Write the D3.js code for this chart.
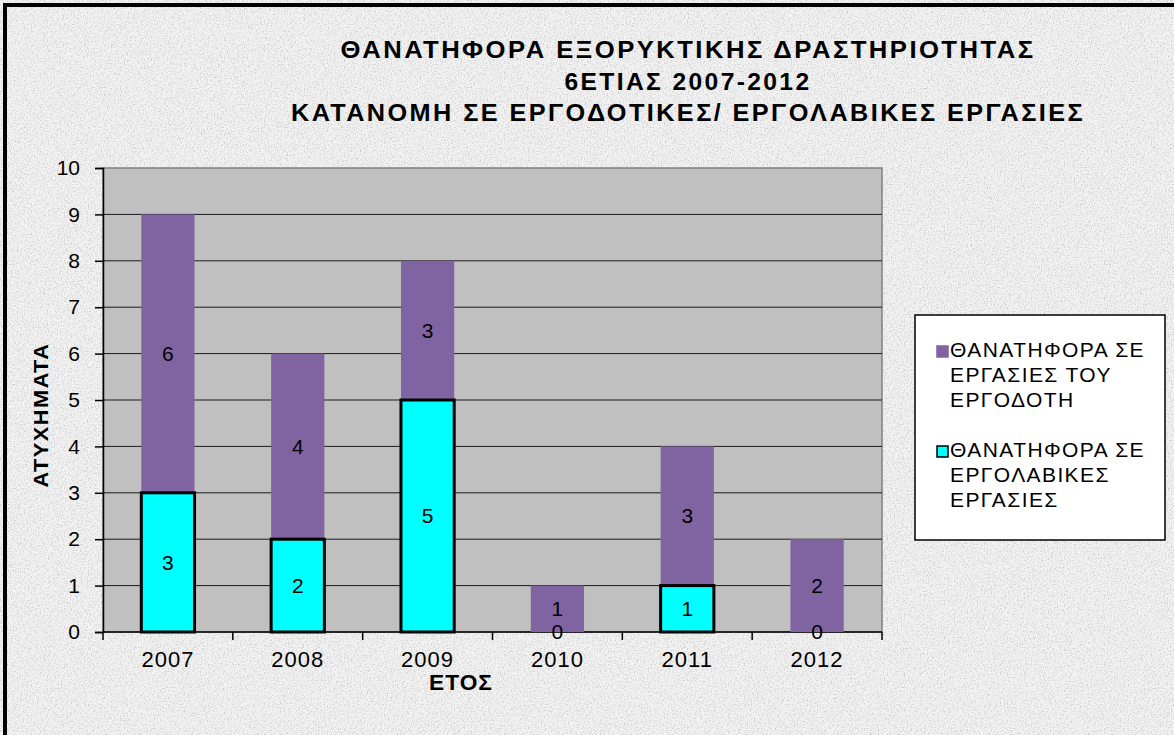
<!DOCTYPE html>
<html>
<head>
<meta charset="utf-8">
<script src="https://cdn.jsdelivr.net/npm/d3@7"></script>
<style>
  body { margin: 0; background: #fff; }
  svg text { font-family: "Liberation Sans", Arial, sans-serif; fill: #000; }
</style>
</head>
<body>
<div id="chart"></div>
<script>
// data
var years = ["2007", "2008", "2009", "2010", "2011", "2012"];
var contractor = [3, 2, 5, 0, 1, 0];   // ΕΡΓΟΛΑΒΙΚΕΣ ΕΡΓΑΣΙΕΣ (cyan, bottom)
var employer = [6, 4, 3, 1, 3, 2];     // ΕΡΓΑΣΙΕΣ ΤΟΥ ΕΡΓΟΔΟΤΗ (purple, top)
var yTicks = [0, 1, 2, 3, 4, 5, 6, 7, 8, 9, 10];
var titleLines = ["ΘΑΝΑΤΗΦΟΡΑ ΕΞΟΡΥΚΤΙΚΗΣ ΔΡΑΣΤΗΡΙΟΤΗΤΑΣ", "6ΕΤΙΑΣ 2007-2012", "ΚΑΤΑΝΟΜΗ ΣΕ ΕΡΓΟΔΟΤΙΚΕΣ/ ΕΡΓΟΛΑΒΙΚΕΣ ΕΡΓΑΣΙΕΣ"];
var legendItems = [
  {lines: ["ΘΑΝΑΤΗΦΟΡΑ ΣΕ", "ΕΡΓΑΣΙΕΣ ΤΟΥ", "ΕΡΓΟΔΟΤΗ"], color: "#8064A2", stroke: "#8064A2"},
  {lines: ["ΘΑΝΑΤΗΦΟΡΑ ΣΕ", "ΕΡΓΟΛΑΒΙΚΕΣ", "ΕΡΓΑΣΙΕΣ"], color: "#00FFFF", stroke: "#000"}
];

var width = 1174, height = 735;
var plot = {left: 103, right: 882, top: 168, bottom: 632};

var svg = d3.select("#chart").append("svg")
  .attr("width", width)
  .attr("height", height);

// noisy paper background
var defs = svg.append("defs");
var f = defs.append("filter").attr("id", "paper").attr("x", 0).attr("y", 0).attr("width", "100%").attr("height", "100%");
f.append("feTurbulence").attr("type", "fractalNoise").attr("baseFrequency", 0.7).attr("numOctaves", 2).attr("seed", 3).attr("result", "n");
f.append("feColorMatrix").attr("in", "n").attr("type", "matrix")
  .attr("values", "0 0 0 0 0  0 0 0 0 0  0 0 0 0 0  -1.6 0 0 0 0.85");

svg.append("rect").attr("width", width).attr("height", height).attr("fill", "#f2f2f2");
svg.append("rect").attr("width", width).attr("height", height).attr("fill", "#fff")
  .attr("filter", "url(#paper)").attr("opacity", 0.28);

// outer frame (only left and top visible)
svg.append("path")
  .attr("d", "M5," + height + "V5H" + width)
  .attr("fill", "none").attr("stroke", "#000").attr("stroke-width", 4);

var x = d3.scaleBand().domain(years).range([plot.left, plot.right]).paddingInner(0.59).paddingOuter(0.295);
var xOuter = d3.scaleBand().domain(years).range([plot.left, plot.right]);
var y = d3.scaleLinear().domain([0, 10]).range([plot.bottom, plot.top]);

// plot area
svg.append("rect")
  .attr("x", plot.left).attr("y", plot.top)
  .attr("width", plot.right - plot.left).attr("height", plot.bottom - plot.top)
  .attr("fill", "#C0C0C0").attr("stroke", "#808080").attr("stroke-width", 1.5);

// gridlines
svg.append("g").selectAll("line")
  .data(yTicks.filter(function(d) { return d > 0 && d < 10; }))
  .enter().append("line")
  .attr("x1", plot.left).attr("x2", plot.right)
  .attr("y1", function(d) { return y(d); }).attr("y2", function(d) { return y(d); })
  .attr("stroke", "#1a1a1a").attr("stroke-width", 1);

// y axis
var yAxis = svg.append("g")
  .attr("transform", "translate(" + plot.left + ",0)")
  .call(d3.axisLeft(y).tickValues(yTicks).tickSize(8).tickPadding(15));
yAxis.select(".domain").attr("stroke", "#000").attr("stroke-width", 1.5);
yAxis.selectAll("line").attr("stroke", "#000").attr("stroke-width", 1.5);
yAxis.selectAll("text").attr("font-size", 21).attr("font-family", "Liberation Sans, Arial, sans-serif").attr("fill", "#000");

// x axis: ticks at category boundaries
var xAxis = svg.append("g").attr("transform", "translate(0," + plot.bottom + ")");
xAxis.append("line").attr("x1", plot.left).attr("x2", plot.right).attr("stroke", "#000").attr("stroke-width", 1.5);
xAxis.selectAll(".tk")
  .data(years.concat(["end"]))
  .enter().append("line")
  .attr("class", "tk")
  .attr("x1", function(d, i) { return i < years.length ? xOuter(d) : plot.right; })
  .attr("x2", function(d, i) { return i < years.length ? xOuter(d) : plot.right; })
  .attr("y1", 0).attr("y2", 8).attr("stroke", "#000").attr("stroke-width", 1.5);
xAxis.selectAll(".lbl")
  .data(years)
  .enter().append("text")
  .attr("class", "lbl")
  .attr("x", function(d) { return xOuter(d) + xOuter.bandwidth() / 2; })
  .attr("y", 35)
  .attr("text-anchor", "middle")
  .attr("font-size", 22)
  .attr("letter-spacing", 1)
  .text(function(d) { return d; });

// bars
var bars = svg.append("g");
bars.selectAll(".emp")
  .data(years)
  .enter().append("rect")
  .attr("class", "emp")
  .attr("x", function(d) { return x(d); })
  .attr("width", x.bandwidth())
  .attr("y", function(d, i) { return y(contractor[i] + employer[i]); })
  .attr("height", function(d, i) { return y(contractor[i]) - y(contractor[i] + employer[i]); })
  .attr("fill", "#8064A2");
bars.selectAll(".con")
  .data(years.filter(function(d, i) { return contractor[i] > 0; }))
  .enter().append("rect")
  .attr("class", "con")
  .attr("x", function(d) { return x(d); })
  .attr("width", x.bandwidth())
  .attr("y", function(d) { return y(contractor[years.indexOf(d)]); })
  .attr("height", function(d) { return y(0) - y(contractor[years.indexOf(d)]); })
  .attr("fill", "#00FFFF").attr("stroke", "#000").attr("stroke-width", 3);

// value labels
var labels = svg.append("g").attr("font-size", 21).attr("text-anchor", "middle");
years.forEach(function(d, i) {
  var cx = x(d) + x.bandwidth() / 2;
  labels.append("text")
    .attr("x", cx).attr("y", y(contractor[i] / 2)).attr("dy", "0.35em")
    .text(contractor[i]);
  labels.append("text")
    .attr("x", cx).attr("y", y(contractor[i] + employer[i] / 2)).attr("dy", "0.35em")
    .text(employer[i]);
});

// title (stretched to the widths seen in the picture)
var titleWidths = [695, 247, 794];
svg.append("g").selectAll("text")
  .data(titleLines)
  .enter().append("text")
  .attr("x", 688)
  .attr("y", function(d, i) { return [58, 90, 121][i]; })
  .attr("text-anchor", "middle")
  .attr("font-size", 23)
  .attr("font-weight", "bold")
  .attr("letter-spacing", 2.2)
  .attr("textLength", function(d, i) { return titleWidths[i]; })
  .attr("lengthAdjust", "spacingAndGlyphs")
  .text(function(d) { return d; });

// axis titles
svg.append("text")
  .attr("transform", "translate(48,415) rotate(-90)")
  .attr("text-anchor", "middle")
  .attr("font-size", 21).attr("font-weight", "bold")
  .attr("letter-spacing", 1.5)
  .attr("textLength", 145).attr("lengthAdjust", "spacingAndGlyphs")
  .text("ΑΤΥΧΗΜΑΤΑ");
svg.append("text")
  .attr("x", 461).attr("y", 690)
  .attr("text-anchor", "middle")
  .attr("font-size", 22).attr("font-weight", "bold")
  .attr("letter-spacing", 1)
  .attr("textLength", 64).attr("lengthAdjust", "spacingAndGlyphs")
  .text("ΕΤΟΣ");

// legend
var legend = svg.append("g").attr("transform", "translate(915,315)");
legend.append("rect").attr("width", 250).attr("height", 225)
  .attr("fill", "#fff").attr("stroke", "#000").attr("stroke-width", 1.5);
legendItems.forEach(function(item, k) {
  var g = legend.append("g").attr("transform", "translate(0," + (k * 100) + ")");
  g.append("rect").attr("x", 22).attr("y", 31).attr("width", 11).attr("height", 11)
    .attr("fill", item.color).attr("stroke", item.stroke).attr("stroke-width", 1.5);
  g.selectAll("text").data(item.lines).enter().append("text")
    .attr("x", 35).attr("y", function(d, i) { return 42 + i * 25; })
    .attr("font-size", 21).attr("letter-spacing", 1.4)
    .text(function(d) { return d; });
});
</script>
</body>
</html>
